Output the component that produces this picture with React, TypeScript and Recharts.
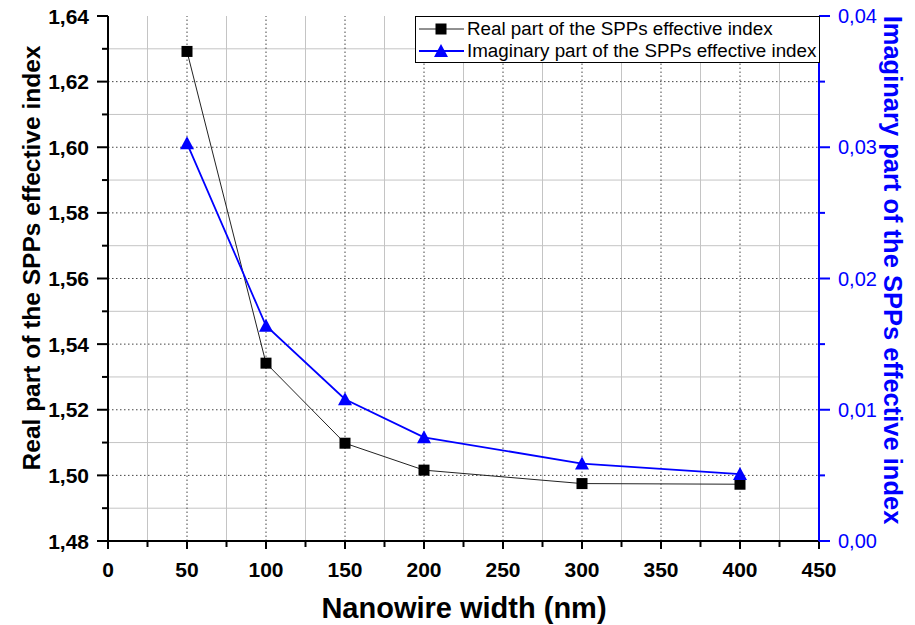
import { ComposedChart, Line, XAxis, YAxis, ReferenceLine, Legend } from 'recharts';

const widths = [50, 100, 150, 200, 300, 400];
const realIndex = [1.6292, 1.5342, 1.5098, 1.5016, 1.4975, 1.4973];
const imagIndex = [0.0303, 0.0164, 0.0108, 0.0079, 0.0059, 0.0051];

const seriesNames = ['Real part of the SPPs effective index', 'Imaginary part of the SPPs effective index'];

const xMajorTicks = [0, 50, 100, 150, 200, 250, 300, 350, 400, 450];
const xMinorTicks = [25, 75, 125, 175, 225, 275, 325, 375, 425];
const leftMajorTicks = [1.48, 1.5, 1.52, 1.54, 1.56, 1.58, 1.6, 1.62, 1.64];
const leftMinorTicks = [1.49, 1.51, 1.53, 1.55, 1.57, 1.59, 1.61, 1.63];
const rightMajorTicks = [0, 0.01, 0.02, 0.03, 0.04];
const rightMinorTicks = [0.005, 0.015, 0.025, 0.035];

const data = widths.map((w, i) => ({ width: w, real: realIndex[i], imag: imagIndex[i] }));

const FONT = "'Liberation Sans', Arial, sans-serif";
const BLUE = '#0000ff';
const fmt = (v: number) => v.toFixed(2).replace('.', ',');
const byValue = (a: number, b: number) => a - b;

const xTicks = [...xMajorTicks, ...xMinorTicks].sort(byValue);
const leftTicks = [...leftMajorTicks, ...leftMinorTicks].sort(byValue);
const rightTicks = [...rightMajorTicks, ...rightMinorTicks].sort(byValue);

const BottomTick = ({ x, y, payload }: any) => {
  const major = xMajorTicks.includes(payload.value);
  return (
    <g>
      <line x1={x} x2={x} y1={y} y2={y + (major ? 8 : 6)} stroke="#000" strokeWidth={2} />
      {major && (
        <text x={x} y={y + 36} textAnchor="middle" fontSize={21} fontWeight="bold" fontFamily={FONT} fill="#000">
          {payload.value}
        </text>
      )}
    </g>
  );
};

const TopTick = ({ x, y }: any) => (
  <line x1={x} x2={x} y1={y} y2={y + 6} stroke="#000" strokeWidth={2} />
);

const LeftTick = ({ x, y, payload }: any) => {
  const major = leftMajorTicks.includes(payload.value);
  return (
    <g>
      <line x1={x - (major ? 11 : 6)} x2={x} y1={y} y2={y} stroke="#000" strokeWidth={2} />
      {major && (
        <text x={x - 19} y={y} dy="0.36em" textAnchor="end" fontSize={21} fontWeight="bold" fontFamily={FONT} fill="#000">
          {fmt(payload.value)}
        </text>
      )}
    </g>
  );
};

const RightTick = ({ x, y, payload }: any) => {
  const major = rightMajorTicks.includes(payload.value);
  return (
    <g>
      <line x1={x} x2={x + (major ? 11 : 6)} y1={y} y2={y} stroke={BLUE} strokeWidth={2} />
      {major && (
        <text x={x + 19} y={y} dy="0.36em" textAnchor="start" fontSize={20} fontFamily={FONT} fill={BLUE}>
          {fmt(payload.value)}
        </text>
      )}
    </g>
  );
};

const SquareDot = ({ cx, cy }: any) => <rect x={cx - 5.5} y={cy - 5.5} width={11} height={11} fill="#000" />;
const TriangleDot = ({ cx, cy }: any) => (
  <polygon points={`${cx},${cy - 7} ${cx - 7},${cy + 6} ${cx + 7},${cy + 6}`} fill={BLUE} />
);

const LegendBox = () => (
  <div
    style={{
      boxSizing: 'border-box',
      width: 405,
      height: 47,
      border: '1px solid #000',
      background: '#fff',
      fontFamily: FONT,
      fontSize: 18.8,
      paddingTop: 1,
    }}
  >
    {seriesNames.map((name, i) => (
      <div key={name} style={{ display: 'flex', alignItems: 'center', height: 22, whiteSpace: 'nowrap' }}>
        <svg width={51} height={22} style={{ flex: 'none' }}>
          <line x1={3} x2={48} y1={11} y2={11} stroke={i === 0 ? '#222' : BLUE} strokeWidth={i === 0 ? 1 : 1.8} />
          {i === 0 ? <SquareDot cx={25} cy={11} /> : <TriangleDot cx={25} cy={11} />}
        </svg>
        <span style={{ color: '#000' }}>{name}</span>
      </div>
    ))}
  </div>
);

const gridMinor = { stroke: '#c4c4c4', strokeWidth: 1 };
const gridMajor = { stroke: '#444', strokeWidth: 1, strokeDasharray: '1.5 2.5' };

export default function App() {
  return (
    <div style={{ position: 'absolute', left: 0, top: 0, background: '#fff' }}>
      <ComposedChart width={915} height={625} data={data} margin={{ top: 16, right: 0, bottom: 0, left: 0 }}>
        <XAxis
          xAxisId="bottom"
          dataKey="width"
          type="number"
          domain={[0, 450]}
          ticks={xTicks}
          interval={0}
          height={84}
          tickSize={0}
          tickMargin={0}
          tickLine={false}
          axisLine={{ stroke: '#000', strokeWidth: 2 }}
          tick={(p: any) => <BottomTick {...p} />}
          label={{
            content: () => (
              <text x={464} y={618} textAnchor="middle" fontSize={29} fontWeight="bold" fontFamily={FONT} fill="#000">
                Nanowire width (nm)
              </text>
            ),
          }}
        />
        <XAxis
          xAxisId="top"
          orientation="top"
          dataKey="width"
          type="number"
          domain={[0, 450]}
          ticks={xTicks}
          interval={0}
          height={0}
          tickSize={0}
          tickMargin={0}
          tickLine={false}
          axisLine={{ stroke: '#000', strokeWidth: 2 }}
          tick={(p: any) => <TopTick {...p} />}
        />
        <YAxis
          yAxisId="left"
          type="number"
          domain={[1.48, 1.64]}
          ticks={leftTicks}
          interval={0}
          width={108}
          tickSize={0}
          tickMargin={0}
          tickLine={false}
          axisLine={{ stroke: '#000', strokeWidth: 2 }}
          tick={(p: any) => <LeftTick {...p} />}
          label={{
            content: () => (
              <text
                x={31}
                y={258}
                transform="rotate(-90 31 258)"
                textAnchor="middle"
                dominantBaseline="central"
                fontSize={24.5}
                fontWeight="bold"
                fontFamily={FONT}
                fill="#000"
              >
                Real part of the SPPs effective index
              </text>
            ),
          }}
        />
        <YAxis
          yAxisId="right"
          orientation="right"
          type="number"
          domain={[0, 0.04]}
          ticks={rightTicks}
          interval={0}
          width={96}
          tickSize={0}
          tickMargin={0}
          tickLine={false}
          axisLine={{ stroke: BLUE, strokeWidth: 2 }}
          tick={(p: any) => <RightTick {...p} />}
          label={{
            content: () => (
              <text
                x={893}
                y={270}
                transform="rotate(90 893 270)"
                textAnchor="middle"
                dominantBaseline="central"
                fontSize={25.5}
                fontWeight="bold"
                fontFamily={FONT}
                fill={BLUE}
              >
                Imaginary part of the SPPs effective index
              </text>
            ),
          }}
        />

        {xMinorTicks.map((v) => (
          <ReferenceLine key={`xm${v}`} xAxisId="bottom" yAxisId="left" x={v} {...gridMinor} />
        ))}
        {leftMinorTicks.map((v) => (
          <ReferenceLine key={`ym${v}`} xAxisId="bottom" yAxisId="left" y={v} {...gridMinor} />
        ))}
        {xMajorTicks.slice(1, -1).map((v) => (
          <ReferenceLine key={`xM${v}`} xAxisId="bottom" yAxisId="left" x={v} {...gridMajor} />
        ))}
        {leftMajorTicks.slice(1, -1).map((v) => (
          <ReferenceLine key={`yM${v}`} xAxisId="bottom" yAxisId="left" y={v} {...gridMajor} />
        ))}

        <Line
          xAxisId="bottom"
          yAxisId="left"
          dataKey="real"
          name={seriesNames[0]}
          type="linear"
          stroke="#222"
          strokeWidth={1}
          dot={(p: any) => <SquareDot key={`s${p.index}`} {...p} />}
          activeDot={false}
          isAnimationActive={false}
        />
        <Line
          xAxisId="bottom"
          yAxisId="right"
          dataKey="imag"
          name={seriesNames[1]}
          type="linear"
          stroke={BLUE}
          strokeWidth={1.8}
          dot={(p: any) => <TriangleDot key={`t${p.index}`} {...p} />}
          activeDot={false}
          isAnimationActive={false}
        />
        <Legend
          layout="horizontal"
          verticalAlign="middle"
          align="center"
          wrapperStyle={{ position: 'absolute', left: 415, top: 16, width: 405, height: 47 }}
          content={() => <LegendBox />}
        />
      </ComposedChart>
    </div>
  );
}
